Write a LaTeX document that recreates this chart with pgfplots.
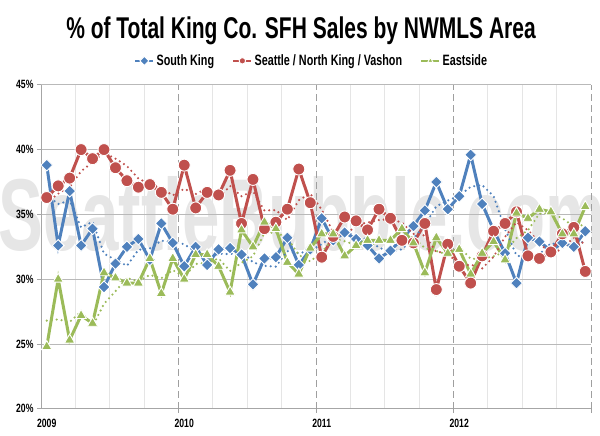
\documentclass[border=0pt]{standalone}
\usepackage{fontspec}
\setmainfont{Liberation Sans}[FakeStretch=0.72]
\newfontfamily\titlefont{Liberation Sans}[FakeStretch=0.70]
\usepackage{graphicx}
\usepackage{pgfplots}
\usepackage{pgfplotstable}
\pgfplotsset{compat=1.18}
\definecolor{cB}{HTML}{4F81BD}
\definecolor{cR}{HTML}{C0504D}
\definecolor{cG}{HTML}{9BBB59}
\definecolor{wm}{HTML}{E6E6E6}

\pgfplotstableread{
m sk sea es skma seama esma
0.5 38.8 36.3 24.8 36.5 35.9 26.8
1.5 32.6 37.2 30.0 35.8 36.6 26.9
2.5 36.8 37.8 25.3 36.07 37.10 26.70
3.5 32.6 40.0 27.2 34.00 38.33 27.50
4.5 33.9 39.3 26.6 34.43 39.03 26.37
5.5 29.4 40.0 30.5 31.97 39.77 28.10
6.5 31.2 38.6 30.1 31.50 39.30 29.07
7.5 32.5 37.6 29.7 31.03 38.73 30.10
8.5 33.1 37.1 29.7 32.27 37.77 29.83
9.5 31.5 37.3 31.6 32.37 37.33 30.33
10.5 34.3 36.7 28.9 32.97 37.03 30.07
11.5 32.8 35.4 31.6 32.87 36.47 30.70
12.5 31.0 38.8 30.0 32.70 36.97 30.17
13.5 32.5 35.5 31.9 32.10 36.57 31.17
14.5 31.1 36.7 31.9 31.53 37.00 31.27
15.5 32.3 36.5 31.0 31.97 36.23 31.60
16.5 32.4 38.4 29.0 31.93 37.20 30.63
17.5 31.9 34.3 33.8 32.20 36.40 31.27
18.5 29.6 37.7 32.5 31.30 36.80 31.77
19.5 31.6 33.9 34.4 31.03 35.30 33.57
20.5 31.7 34.4 33.9 30.97 35.33 33.60
21.5 33.2 35.4 31.3 32.17 34.57 33.20
22.5 31.1 38.5 30.4 32.00 36.10 31.87
23.5 32.3 35.9 32.4 32.20 36.60 31.37
24.5 34.7 31.7 33.5 32.70 35.37 32.10
25.5 33.0 33.3 33.5 33.33 33.63 33.13
26.5 33.6 34.8 31.8 33.77 33.27 32.93
27.5 33.1 34.5 32.6 33.23 34.20 32.63
28.5 32.6 33.8 33.0 33.10 34.37 32.47
29.5 31.6 35.4 33.0 32.43 34.57 32.87
30.5 32.2 34.7 33.0 32.13 34.63 33.00
31.5 33.1 33.0 33.9 32.30 34.37 33.30
32.5 34.1 32.8 32.8 33.13 33.50 33.23
33.5 35.3 34.3 30.5 34.17 33.37 32.40
34.5 37.5 29.2 33.2 35.63 32.10 32.17
35.5 35.4 32.7 32.0 36.07 32.07 31.90
36.5 36.4 31.0 32.3 36.43 30.97 32.50
37.5 39.6 29.7 30.4 37.13 31.13 31.57
38.5 35.8 31.8 32.0 37.27 30.83 31.57
39.5 33.8 33.7 32.9 36.40 31.73 31.77
40.5 32.0 34.3 31.5 33.87 33.27 32.13
41.5 29.7 35.2 35.1 31.83 34.40 33.17
42.5 33.2 31.8 34.7 31.63 33.77 33.77
43.5 32.9 31.6 35.4 31.93 32.87 35.07
44.5 32.2 32.1 35.2 32.77 31.83 35.10
45.5 32.8 33.5 33.5 32.63 32.40 34.70
46.5 32.5 34.0 33.5 32.50 33.20 34.07
47.5 33.7 30.6 35.6 33.00 32.70 34.20
}\datatable

\begin{document}
\begin{tikzpicture}
\useasboundingbox (-41pt,-27.2pt) rectangle (559pt,408.8pt);
\node[text=wm, font=\bfseries, inner sep=0pt] at (261pt,195pt) {\resizebox{606pt}{74pt}{SeattleBubble.com}};
\node[font=\titlefont\bfseries\fontsize{30}{33}\selectfont] at (260pt,378pt) {\% of Total King Co. SFH Sales by NWMLS Area};
\begin{axis}[
  at={(0pt,0pt)}, anchor=south west,
  scale only axis, width=550pt, height=324pt,
  xmin=0, xmax=48, ymin=20, ymax=45,
  axis x line*=bottom, axis y line*=left,
  axis line style={-, gray!70, line width=0.8pt},
  xtick={0.5,12.5,24.5,36.5}, xticklabels={2009,2010,2011,2012},
  xtick style={draw=none},
  minor xtick={3,6,9,15,18,21,27,30,33,39,42,45},
  minor tick length=0pt,
  xminorgrids=true,
  minor grid style={gray!20, line width=0.8pt},
  extra x ticks={12,24,36,48}, extra x tick labels={},
  extra x tick style={grid=major, major grid style={gray!75, line width=0.8pt, dash pattern=on 7pt off 4pt}, xtick style={draw=gray!75, line width=0.8pt}, major tick length=4pt, tick align=outside},
  ytick={20,25,30,35,40,45}, yticklabels={20\%,25\%,30\%,35\%,40\%,45\%},
  ymajorgrids=true,
  y grid style={gray!55, line width=0.8pt},
  ytick style={draw=gray!70, line width=0.8pt},
  tick align=outside, major tick length=4pt,
  ticklabel style={font=\bfseries\fontsize{12}{13}\selectfont},
  xticklabel style={yshift=-3pt},
  legend columns=3,
  legend style={at={(0.492,1.074)}, anchor=center, draw=none, fill=none,
    font=\bfseries\fontsize{15}{16}\selectfont,
    /tikz/every even column/.append style={column sep=16pt}},
  legend image code/.code={\draw[mark repeat=2,mark phase=2, mark size=3.2pt, line width=2.4pt] plot coordinates {(0pt,0pt) (9pt,0pt) (18pt,0pt)};},
]
\addplot[cB, line width=3pt, mark=square*, mark size=4.2pt, mark options={rotate=45, draw=white, line width=0.9pt, fill=cB}] table[x=m, y=sk] {\datatable};
\addlegendentry{South King}
\addplot[cR, line width=3pt, mark=*, mark size=6pt, mark options={draw=white, line width=0.9pt, fill=cR}] table[x=m, y=sea] {\datatable};
\addlegendentry{Seattle / North King / Vashon}
\addplot[cG, line width=3pt, mark=triangle*, mark size=6pt, mark options={draw=white, line width=0.9pt, fill=cG}] table[x=m, y=es] {\datatable};
\addlegendentry{Eastside}
\addplot[cB, line width=2.4pt, line cap=round, dash pattern=on 0pt off 5pt, forget plot] table[x=m, y=skma] {\datatable};
\addplot[cR, line width=2.4pt, line cap=round, dash pattern=on 0pt off 5pt, forget plot] table[x=m, y=seama] {\datatable};
\addplot[cG, line width=2.4pt, line cap=round, dash pattern=on 0pt off 5pt, forget plot] table[x=m, y=esma] {\datatable};
\end{axis}
\end{tikzpicture}
\end{document}
